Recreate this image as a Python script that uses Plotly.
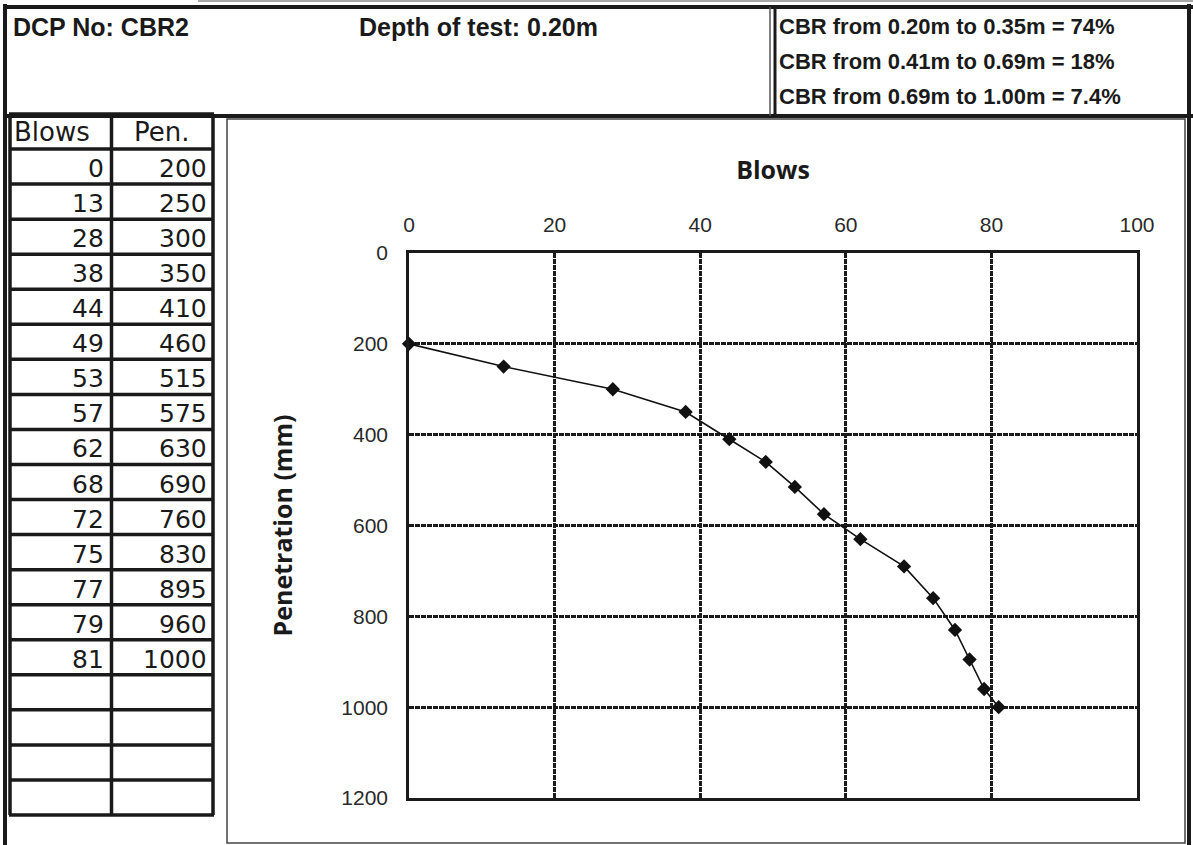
import plotly.graph_objects as go

W, H = 1193, 845

# DCP test record
dcp_no = "CBR2"
test_depth = "0.20m"
blows = [0, 13, 28, 38, 44, 49, 53, 57, 62, 68, 72, 75, 77, 79, 81]
pen = [200, 250, 300, 350, 410, 460, 515, 575, 630, 690, 760, 830, 895, 960, 1000]
cbr_lines = [
    "CBR from 0.20m to 0.35m = 74%",
    "CBR from 0.41m to 0.69m = 18%",
    "CBR from 0.69m to 1.00m = 7.4%",
]
x_ticks = [0, 20, 40, 60, 80, 100]
y_ticks = [0, 200, 400, 600, 800, 1000, 1200]
n_empty_rows = 4


def px(x):
    return x / W


def py(y):
    return 1 - y / H


def line(x0, y0, x1, y1, width=3, color="#1a1a1a"):
    return dict(
        type="line", xref="paper", yref="paper",
        x0=px(x0), y0=py(y0), x1=px(x1), y1=py(y1),
        line=dict(color=color, width=width),
    )


fig = go.Figure()

fig.add_trace(
    go.Scatter(
        x=blows,
        y=pen,
        mode="lines+markers",
        line=dict(color="#111", width=1.6),
        marker=dict(symbol="diamond", size=11, color="#111"),
        cliponaxis=False,
        showlegend=False,
        hoverinfo="skip",
    )
)

shapes = []
# page frame and header
shapes.append(line(198, 1, W, 1, width=1.5, color="#888"))
shapes.append(line(3, 7, W, 7, width=4))
shapes.append(line(5, 4, 5, H, width=4))
shapes.append(line(1189, 4, 1189, H, width=4))
shapes.append(line(5, 116, W, 116, width=4))
shapes.append(line(770, 7, 770, 116, width=1.5, color="#555"))
shapes.append(line(775, 7, 775, 116, width=3))
# chart box
shapes.append(dict(
    type="rect", xref="paper", yref="paper",
    x0=px(227), y0=py(843), x1=px(1185), y1=py(119),
    line=dict(color="#444", width=1.5),
))

# table grid
row_h = 35.05
top = 114
n_rows = 1 + len(blows) + n_empty_rows
bottom = top + row_h * n_rows
for i in range(n_rows + 1):
    yy = top + row_h * i
    shapes.append(line(9, yy, 214, yy, width=3.5))
for xx in (10, 111.5, 213):
    shapes.append(line(xx, top, xx, bottom, width=3.5))

hdr_bold = dict(family="Liberation Sans", size=25, color="#1a1a1a")
annotations = [
    dict(text=f"<b>DCP No: {dcp_no}</b>", x=px(11), y=py(27), xanchor="left",
         font=hdr_bold),
    dict(text=f"<b>Depth of test: {test_depth}</b>", x=px(357), y=py(27),
         xanchor="left", font=hdr_bold),
]
for i, t in enumerate(cbr_lines):
    annotations.append(dict(
        text=f"<b>{t}</b>", x=px(777), y=py(26.5 + 35 * i), xanchor="left",
        font=dict(family="Liberation Sans", size=22, color="#1a1a1a"),
    ))

hdr_font = dict(family="DejaVu Sans", size=26, color="#1a1a1a")
num_font = dict(family="DejaVu Sans", size=25, color="#1a1a1a")
annotations.append(dict(text="Blows", x=px(12), y=py(top + row_h / 2),
                        xanchor="left", font=hdr_font))
annotations.append(dict(text="Pen.", x=px(162), y=py(top + row_h / 2),
                        xanchor="center", font=hdr_font))
for i, (b, p) in enumerate(zip(blows, pen)):
    yc = top + row_h * (i + 1.5) + 2
    annotations.append(dict(text=str(b), x=px(106), y=py(yc),
                            xanchor="right", font=num_font))
    annotations.append(dict(text=str(p), x=px(209), y=py(yc),
                            xanchor="right", font=num_font))

for a in annotations:
    a.update(xref="paper", yref="paper", showarrow=False, yanchor="middle")

grid = dict(
    showgrid=True,
    gridcolor="#1a1a1a",
    gridwidth=2.5,
    griddash="5px,1px",
    showline=True,
    linecolor="#1a1a1a",
    linewidth=2.5,
    mirror=True,
    zeroline=False,
    ticks="outside",
    tickcolor="rgba(0,0,0,0)",
    tickfont=dict(family="Liberation Sans", size=21, color="#2a2a2a"),
    automargin=False,
)

fig.update_layout(
    width=W,
    height=H,
    margin=dict(l=0, r=0, t=0, b=0),
    paper_bgcolor="white",
    plot_bgcolor="white",
    shapes=shapes,
    annotations=annotations,
    xaxis=dict(
        grid,
        domain=[px(409), px(1137)],
        range=[0, 100],
        tickvals=x_ticks,
        side="top",
        ticklen=10,
        title=dict(text="<b>Blows</b>", standoff=27,
                   font=dict(family="Open Sans", size=25, color="#1a1a1a")),
    ),
    yaxis=dict(
        grid,
        domain=[py(798), py(253)],
        range=[1200, 0],
        tickvals=y_ticks,
        ticklen=14,
        title=dict(text="<b>Penetration (mm)</b>", standoff=42,
                   font=dict(family="Open Sans", size=25, color="#1a1a1a")),
    ),
)

# the page body keeps its default 8px margin otherwise
fig.write_html(
    "out.html",
    config={"displayModeBar": False},
    post_script="document.body.style.margin='0';",
)
